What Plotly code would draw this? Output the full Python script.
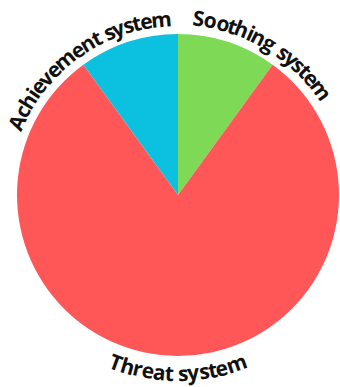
import math
import plotly.graph_objects as go

# ---- data ----
labels = ["Soothing system", "Threat system", "Achievement system"]
values = [10, 80, 10]
colors = ["#7ED957", "#FF5757", "#0CC0DF"]

# ---- layout / style ----
W, H = 340, 387
CX, CY, R = 178, 195, 161
label_angle = {"Soothing system": 31, "Achievement system": -35, "Threat system": 180}
label_radius = {"Soothing system": 178, "Achievement system": 177, "Threat system": 178}
FONT_SIZE = 21
EM = 21.0  # arc length per em for letter spacing

# approximate glyph advance widths (em) for a humanist sans
widths = {
    "A": .63, "S": .53, "T": .55, "a": .56, "c": .49, "e": .56, "g": .55, "h": .62,
    "i": .27, "m": .93, "n": .62, "o": .60, "r": .41, "s": .47, "t": .35, "v": .50,
    "y": .50, " ": .26,
}

fig = go.Figure(go.Pie(
    labels=labels, values=values, sort=False, direction="clockwise", rotation=0,
    marker=dict(colors=colors, line=dict(width=0)),
    textinfo="none", showlegend=False,
    domain=dict(x=[(CX - R) / W, (CX + R) / W], y=[1 - (CY + R) / H, 1 - (CY - R) / H]),
))

annotations = []
for lab in labels:
    phic = label_angle[lab]
    r = label_radius[lab]
    ws = [widths.get(ch, .55) * EM for ch in lab]
    total = sum(ws)
    bottom = 90 < phic < 270
    cum = 0
    for ch, w in zip(lab, ws):
        off = cum + w / 2 - total / 2
        cum += w
        if ch == " ":
            continue
        d = math.degrees(off / r)
        if bottom:
            phi = phic - d
            ang = phi - 180
        else:
            phi = phic + d
            ang = phi
        px = CX + r * math.sin(math.radians(phi))
        py = CY - r * math.cos(math.radians(phi))
        annotations.append(dict(
            x=px / W, y=1 - py / H, xref="paper", yref="paper",
            text=ch, showarrow=False, textangle=ang,
            xanchor="center", yanchor="middle",
            font=dict(family="Open Sans", size=FONT_SIZE, color="#111111", weight=700),
        ))

fig.update_layout(
    width=W, height=H, margin=dict(l=0, r=0, t=0, b=0),
    paper_bgcolor="white", plot_bgcolor="white",
    annotations=annotations,
)
fig.write_html("out.html")
